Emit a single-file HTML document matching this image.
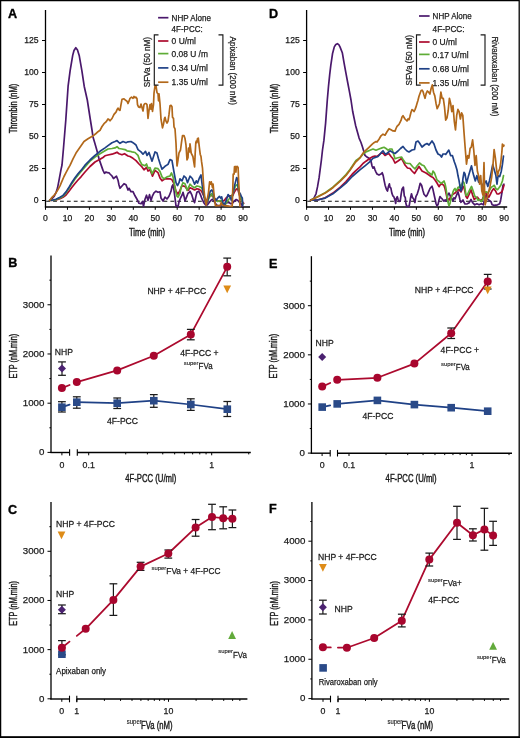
<!DOCTYPE html>
<html><head><meta charset="utf-8"><style>
html,body{margin:0;padding:0;background:#fff;}
svg{display:block;}
text{font-family:"Liberation Sans",sans-serif;}
</style></head><body>
<div style="will-change:transform;width:520px;height:738px"><svg width="520" height="738" viewBox="0 0 520 738">
<rect x="0" y="0" width="520" height="738" fill="#fff"/>
<text x="0" y="0" font-size="12.6" text-anchor="start" font-weight="bold" fill="#000" stroke="#000" stroke-width="0.35" transform="translate(8.3 267.3)">B</text>
<line x1="51" y1="255.5" x2="51" y2="453.1" stroke="#000" stroke-width="1.3" />
<line x1="47.5" y1="452.4" x2="51" y2="452.4" stroke="#000" stroke-width="1.0" />
<text x="0" y="0" font-size="9.7" text-anchor="end" font-weight="normal" fill="#1a1a1a" stroke="#1a1a1a" stroke-width="0.25" transform="translate(44.4 455.29)">0</text>
<line x1="47.5" y1="403.19" x2="51" y2="403.19" stroke="#000" stroke-width="1.0" />
<text x="0" y="0" font-size="9.7" text-anchor="end" font-weight="normal" fill="#1a1a1a" stroke="#1a1a1a" stroke-width="0.25" transform="translate(44.4 406.08)">1000</text>
<line x1="47.5" y1="353.98" x2="51" y2="353.98" stroke="#000" stroke-width="1.0" />
<text x="0" y="0" font-size="9.7" text-anchor="end" font-weight="normal" fill="#1a1a1a" stroke="#1a1a1a" stroke-width="0.25" transform="translate(44.4 356.87)">2000</text>
<line x1="47.5" y1="304.77" x2="51" y2="304.77" stroke="#000" stroke-width="1.0" />
<text x="0" y="0" font-size="9.7" text-anchor="end" font-weight="normal" fill="#1a1a1a" stroke="#1a1a1a" stroke-width="0.25" transform="translate(44.4 307.66)">3000</text>
<line x1="49.4" y1="427.79" x2="51" y2="427.79" stroke="#000" stroke-width="1.0" />
<line x1="49.4" y1="378.58" x2="51" y2="378.58" stroke="#000" stroke-width="1.0" />
<line x1="49.4" y1="329.38" x2="51" y2="329.38" stroke="#000" stroke-width="1.0" />
<line x1="49.4" y1="280.16" x2="51" y2="280.16" stroke="#000" stroke-width="1.0" />
<line x1="50.4" y1="452.5" x2="69.6" y2="452.5" stroke="#000" stroke-width="1.4" />
<line x1="77.3" y1="452.5" x2="250.8" y2="452.5" stroke="#000" stroke-width="1.4" />
<line x1="69.6" y1="449.2" x2="69.6" y2="455.8" stroke="#000" stroke-width="1.1" />
<line x1="77.3" y1="449.2" x2="77.3" y2="455.8" stroke="#000" stroke-width="1.1" />
<line x1="61.9" y1="452.5" x2="61.9" y2="455.3" stroke="#000" stroke-width="1.0" />
<line x1="88.7" y1="452.5" x2="88.7" y2="455.3" stroke="#000" stroke-width="1.0" />
<line x1="211.7" y1="452.5" x2="211.7" y2="455.3" stroke="#000" stroke-width="1.0" />
<line x1="125.73" y1="452.5" x2="125.73" y2="454.4" stroke="#000" stroke-width="1.0" />
<line x1="147.39" y1="452.5" x2="147.39" y2="454.4" stroke="#000" stroke-width="1.0" />
<line x1="162.75" y1="452.5" x2="162.75" y2="454.4" stroke="#000" stroke-width="1.0" />
<line x1="174.67" y1="452.5" x2="174.67" y2="454.4" stroke="#000" stroke-width="1.0" />
<line x1="184.41" y1="452.5" x2="184.41" y2="454.4" stroke="#000" stroke-width="1.0" />
<line x1="192.65" y1="452.5" x2="192.65" y2="454.4" stroke="#000" stroke-width="1.0" />
<line x1="199.78" y1="452.5" x2="199.78" y2="454.4" stroke="#000" stroke-width="1.0" />
<line x1="206.07" y1="452.5" x2="206.07" y2="454.4" stroke="#000" stroke-width="1.0" />
<line x1="248.73" y1="452.5" x2="248.73" y2="454.4" stroke="#000" stroke-width="1.0" />
<text x="0" y="0" font-size="8.8" text-anchor="middle" font-weight="normal" fill="#1a1a1a" stroke="#1a1a1a" stroke-width="0.25" transform="translate(61.9 467.67)">0</text>
<text x="0" y="0" font-size="8.8" text-anchor="middle" font-weight="normal" fill="#1a1a1a" stroke="#1a1a1a" stroke-width="0.25" transform="translate(88.7 467.67)">0.1</text>
<text x="0" y="0" font-size="8.8" text-anchor="middle" font-weight="normal" fill="#1a1a1a" stroke="#1a1a1a" stroke-width="0.25" transform="translate(211.7 467.67)">1</text>
<text x="0" y="0" font-size="10" text-anchor="middle" font-weight="normal" fill="#1a1a1a" stroke="#1a1a1a" stroke-width="0.4" textLength="44.7" lengthAdjust="spacingAndGlyphs" transform="rotate(-90 13.2 356.2) translate(13.2 359.8)">ETP (nM.min)</text>
<text x="0" y="0" font-size="10" text-anchor="middle" font-weight="normal" fill="#1a1a1a" stroke="#1a1a1a" stroke-width="0.4" textLength="51" lengthAdjust="spacingAndGlyphs" transform="translate(150.8 482.4)">4F-PCC (U/ml)</text>
<polyline points="61.9,407.2 69.6,404.62" fill="none" stroke="#1f4186" stroke-width="1.75" stroke-linejoin="round" stroke-linecap="round"/>
<polyline points="76.8,402.2 117.2,403.2 153.8,400.7 190.8,404.5 227.3,409.2" fill="none" stroke="#1f4186" stroke-width="1.75" stroke-linejoin="round" stroke-linecap="round"/>
<polyline points="61.9,388.1 69.6,385" fill="none" stroke="#ac0a2e" stroke-width="1.75" stroke-linejoin="round" stroke-linecap="round"/>
<polyline points="76.8,382.1 117.2,370.4 153.8,355.7 190.8,334.4 227.2,266.8" fill="none" stroke="#ac0a2e" stroke-width="1.75" stroke-linejoin="round" stroke-linecap="round"/>
<line x1="61.9" y1="401.7" x2="61.9" y2="412" stroke="#1a1a1a" stroke-width="1.2" />
<line x1="58" y1="401.7" x2="65.8" y2="401.7" stroke="#1a1a1a" stroke-width="1.25" />
<line x1="58" y1="412" x2="65.8" y2="412" stroke="#1a1a1a" stroke-width="1.25" />
<line x1="76.8" y1="396.8" x2="76.8" y2="408.2" stroke="#1a1a1a" stroke-width="1.2" />
<line x1="72.9" y1="396.8" x2="80.7" y2="396.8" stroke="#1a1a1a" stroke-width="1.25" />
<line x1="72.9" y1="408.2" x2="80.7" y2="408.2" stroke="#1a1a1a" stroke-width="1.25" />
<line x1="117.2" y1="398" x2="117.2" y2="408.5" stroke="#1a1a1a" stroke-width="1.2" />
<line x1="113.3" y1="398" x2="121.1" y2="398" stroke="#1a1a1a" stroke-width="1.25" />
<line x1="113.3" y1="408.5" x2="121.1" y2="408.5" stroke="#1a1a1a" stroke-width="1.25" />
<line x1="153.8" y1="394.6" x2="153.8" y2="407.3" stroke="#1a1a1a" stroke-width="1.2" />
<line x1="149.9" y1="394.6" x2="157.7" y2="394.6" stroke="#1a1a1a" stroke-width="1.25" />
<line x1="149.9" y1="407.3" x2="157.7" y2="407.3" stroke="#1a1a1a" stroke-width="1.25" />
<line x1="190.8" y1="398.8" x2="190.8" y2="410.4" stroke="#1a1a1a" stroke-width="1.2" />
<line x1="186.9" y1="398.8" x2="194.7" y2="398.8" stroke="#1a1a1a" stroke-width="1.25" />
<line x1="186.9" y1="410.4" x2="194.7" y2="410.4" stroke="#1a1a1a" stroke-width="1.25" />
<line x1="227.3" y1="401.5" x2="227.3" y2="416.5" stroke="#1a1a1a" stroke-width="1.2" />
<line x1="223.4" y1="401.5" x2="231.2" y2="401.5" stroke="#1a1a1a" stroke-width="1.25" />
<line x1="223.4" y1="416.5" x2="231.2" y2="416.5" stroke="#1a1a1a" stroke-width="1.25" />
<rect x="58.1" y="403.4" width="7.6" height="7.6" fill="#2a4a88"/>
<rect x="73" y="398.4" width="7.6" height="7.6" fill="#2a4a88"/>
<rect x="113.4" y="399.4" width="7.6" height="7.6" fill="#2a4a88"/>
<rect x="150" y="396.9" width="7.6" height="7.6" fill="#2a4a88"/>
<rect x="187" y="400.7" width="7.6" height="7.6" fill="#2a4a88"/>
<rect x="223.5" y="405.4" width="7.6" height="7.6" fill="#2a4a88"/>
<line x1="190.8" y1="329.4" x2="190.8" y2="339.8" stroke="#1a1a1a" stroke-width="1.2" />
<line x1="186.9" y1="329.4" x2="194.7" y2="329.4" stroke="#1a1a1a" stroke-width="1.25" />
<line x1="186.9" y1="339.8" x2="194.7" y2="339.8" stroke="#1a1a1a" stroke-width="1.25" />
<line x1="227.2" y1="258.1" x2="227.2" y2="275.8" stroke="#1a1a1a" stroke-width="1.2" />
<line x1="223.3" y1="258.1" x2="231.1" y2="258.1" stroke="#1a1a1a" stroke-width="1.25" />
<line x1="223.3" y1="275.8" x2="231.1" y2="275.8" stroke="#1a1a1a" stroke-width="1.25" />
<circle cx="61.9" cy="388.1" r="4" fill="#a8062e"/>
<circle cx="76.8" cy="382.1" r="4" fill="#a8062e"/>
<circle cx="117.2" cy="370.4" r="4" fill="#a8062e"/>
<circle cx="153.8" cy="355.7" r="4" fill="#a8062e"/>
<circle cx="190.8" cy="334.4" r="4" fill="#a8062e"/>
<circle cx="227.2" cy="266.8" r="4" fill="#a8062e"/>
<line x1="62" y1="361.9" x2="62" y2="375.3" stroke="#1a1a1a" stroke-width="1.2" />
<line x1="58.1" y1="361.9" x2="65.9" y2="361.9" stroke="#1a1a1a" stroke-width="1.25" />
<line x1="58.1" y1="375.3" x2="65.9" y2="375.3" stroke="#1a1a1a" stroke-width="1.25" />
<path d="M62,364.4 L66,368.4 L62,372.4 L58,368.4 Z" fill="#4b2270"/>
<path d="M223.3,285.5 L231.1,285.5 L227.2,293.3 Z" fill="#de8c18"/>
<text x="0" y="0" font-size="9.2" text-anchor="start" font-weight="normal" fill="#1a1a1a" stroke="#1a1a1a" stroke-width="0.25" transform="translate(54.8 354.51) scale(0.935 1)">NHP</text>
<text x="0" y="0" font-size="9.2" text-anchor="start" font-weight="normal" fill="#1a1a1a" stroke="#1a1a1a" stroke-width="0.25" transform="translate(147.4 293.71) scale(0.935 1)">NHP + 4F-PCC</text>
<text x="0" y="0" font-size="9.2" text-anchor="start" font-weight="normal" fill="#1a1a1a" stroke="#1a1a1a" stroke-width="0.25" transform="translate(180.2 355.71) scale(0.935 1)">4F-PCC +</text>
<text x="0" y="0" font-size="6.2" text-anchor="start" font-weight="normal" fill="#1a1a1a" stroke="#1a1a1a" stroke-width="0.12" transform="translate(183.8 364.73) scale(0.95 1)">super</text>
<text x="0" y="0" font-size="9.2" text-anchor="start" font-weight="normal" fill="#1a1a1a" stroke="#1a1a1a" stroke-width="0.25" transform="translate(198.62 368.81) scale(0.86 1)">FVa</text>
<text x="0" y="0" font-size="9.2" text-anchor="start" font-weight="normal" fill="#1a1a1a" stroke="#1a1a1a" stroke-width="0.25" transform="translate(107 423.71) scale(0.935 1)">4F-PCC</text>
<text x="0" y="0" font-size="12.6" text-anchor="start" font-weight="bold" fill="#000" stroke="#000" stroke-width="0.35" transform="translate(269 267.9)">E</text>
<line x1="311.4" y1="256.2" x2="311.4" y2="453.8" stroke="#000" stroke-width="1.3" />
<line x1="307.9" y1="453.1" x2="311.4" y2="453.1" stroke="#000" stroke-width="1.0" />
<text x="0" y="0" font-size="9.7" text-anchor="end" font-weight="normal" fill="#1a1a1a" stroke="#1a1a1a" stroke-width="0.25" transform="translate(304.8 455.99)">0</text>
<line x1="307.9" y1="403.97" x2="311.4" y2="403.97" stroke="#000" stroke-width="1.0" />
<text x="0" y="0" font-size="9.7" text-anchor="end" font-weight="normal" fill="#1a1a1a" stroke="#1a1a1a" stroke-width="0.25" transform="translate(304.8 406.86)">1000</text>
<line x1="307.9" y1="354.84" x2="311.4" y2="354.84" stroke="#000" stroke-width="1.0" />
<text x="0" y="0" font-size="9.7" text-anchor="end" font-weight="normal" fill="#1a1a1a" stroke="#1a1a1a" stroke-width="0.25" transform="translate(304.8 357.73)">2000</text>
<line x1="307.9" y1="305.71" x2="311.4" y2="305.71" stroke="#000" stroke-width="1.0" />
<text x="0" y="0" font-size="9.7" text-anchor="end" font-weight="normal" fill="#1a1a1a" stroke="#1a1a1a" stroke-width="0.25" transform="translate(304.8 308.6)">3000</text>
<line x1="309.8" y1="428.54" x2="311.4" y2="428.54" stroke="#000" stroke-width="1.0" />
<line x1="309.8" y1="379.41" x2="311.4" y2="379.41" stroke="#000" stroke-width="1.0" />
<line x1="309.8" y1="330.28" x2="311.4" y2="330.28" stroke="#000" stroke-width="1.0" />
<line x1="309.8" y1="281.14" x2="311.4" y2="281.14" stroke="#000" stroke-width="1.0" />
<line x1="310.8" y1="453.2" x2="330.2" y2="453.2" stroke="#000" stroke-width="1.4" />
<line x1="337.5" y1="453.2" x2="512" y2="453.2" stroke="#000" stroke-width="1.4" />
<line x1="330.2" y1="449.9" x2="330.2" y2="456.5" stroke="#000" stroke-width="1.1" />
<line x1="337.5" y1="449.9" x2="337.5" y2="456.5" stroke="#000" stroke-width="1.1" />
<line x1="322.1" y1="453.2" x2="322.1" y2="456" stroke="#000" stroke-width="1.0" />
<line x1="349" y1="453.2" x2="349" y2="456" stroke="#000" stroke-width="1.0" />
<line x1="472" y1="453.2" x2="472" y2="456" stroke="#000" stroke-width="1.0" />
<line x1="386.03" y1="453.2" x2="386.03" y2="455.1" stroke="#000" stroke-width="1.0" />
<line x1="407.69" y1="453.2" x2="407.69" y2="455.1" stroke="#000" stroke-width="1.0" />
<line x1="423.05" y1="453.2" x2="423.05" y2="455.1" stroke="#000" stroke-width="1.0" />
<line x1="434.97" y1="453.2" x2="434.97" y2="455.1" stroke="#000" stroke-width="1.0" />
<line x1="444.71" y1="453.2" x2="444.71" y2="455.1" stroke="#000" stroke-width="1.0" />
<line x1="452.95" y1="453.2" x2="452.95" y2="455.1" stroke="#000" stroke-width="1.0" />
<line x1="460.08" y1="453.2" x2="460.08" y2="455.1" stroke="#000" stroke-width="1.0" />
<line x1="466.37" y1="453.2" x2="466.37" y2="455.1" stroke="#000" stroke-width="1.0" />
<line x1="509.03" y1="453.2" x2="509.03" y2="455.1" stroke="#000" stroke-width="1.0" />
<text x="0" y="0" font-size="8.8" text-anchor="middle" font-weight="normal" fill="#1a1a1a" stroke="#1a1a1a" stroke-width="0.25" transform="translate(322.1 468.37)">0</text>
<text x="0" y="0" font-size="8.8" text-anchor="middle" font-weight="normal" fill="#1a1a1a" stroke="#1a1a1a" stroke-width="0.25" transform="translate(349 468.37)">0.1</text>
<text x="0" y="0" font-size="8.8" text-anchor="middle" font-weight="normal" fill="#1a1a1a" stroke="#1a1a1a" stroke-width="0.25" transform="translate(472 468.37)">1</text>
<text x="0" y="0" font-size="10" text-anchor="middle" font-weight="normal" fill="#1a1a1a" stroke="#1a1a1a" stroke-width="0.4" textLength="44.7" lengthAdjust="spacingAndGlyphs" transform="rotate(-90 273.6 356.2) translate(273.6 359.8)">ETP (nM.min)</text>
<text x="0" y="0" font-size="10" text-anchor="middle" font-weight="normal" fill="#1a1a1a" stroke="#1a1a1a" stroke-width="0.4" textLength="51" lengthAdjust="spacingAndGlyphs" transform="translate(411.1 482.4)">4F-PCC (U/ml)</text>
<polyline points="322.2,407.1 330.2,405.39" fill="none" stroke="#1f4186" stroke-width="1.75" stroke-linejoin="round" stroke-linecap="round"/>
<polyline points="337.2,403.9 377.4,400.4 414.4,404.6 451.2,407.7 487.7,411.2" fill="none" stroke="#1f4186" stroke-width="1.75" stroke-linejoin="round" stroke-linecap="round"/>
<polyline points="322.2,386.6 330.2,382.97" fill="none" stroke="#ac0a2e" stroke-width="1.75" stroke-linejoin="round" stroke-linecap="round"/>
<polyline points="337.2,379.8 377.4,377.8 414.4,363.6 451.2,333.3 487.7,281.6" fill="none" stroke="#ac0a2e" stroke-width="1.75" stroke-linejoin="round" stroke-linecap="round"/>
<rect x="318.4" y="403.3" width="7.6" height="7.6" fill="#2a4a88"/>
<rect x="333.4" y="400.1" width="7.6" height="7.6" fill="#2a4a88"/>
<rect x="373.6" y="396.6" width="7.6" height="7.6" fill="#2a4a88"/>
<rect x="410.6" y="400.8" width="7.6" height="7.6" fill="#2a4a88"/>
<rect x="447.4" y="403.9" width="7.6" height="7.6" fill="#2a4a88"/>
<rect x="483.9" y="407.4" width="7.6" height="7.6" fill="#2a4a88"/>
<line x1="451.2" y1="328" x2="451.2" y2="338.5" stroke="#1a1a1a" stroke-width="1.2" />
<line x1="447.3" y1="328" x2="455.1" y2="328" stroke="#1a1a1a" stroke-width="1.25" />
<line x1="447.3" y1="338.5" x2="455.1" y2="338.5" stroke="#1a1a1a" stroke-width="1.25" />
<line x1="487.7" y1="274.4" x2="487.7" y2="289" stroke="#1a1a1a" stroke-width="1.2" />
<line x1="483.8" y1="274.4" x2="491.6" y2="274.4" stroke="#1a1a1a" stroke-width="1.25" />
<line x1="483.8" y1="289" x2="491.6" y2="289" stroke="#1a1a1a" stroke-width="1.25" />
<path d="M483.8,286.4 L491.6,286.4 L487.7,294.2 Z" fill="#de8c18"/>
<circle cx="322.2" cy="386.6" r="4" fill="#a8062e"/>
<circle cx="337.2" cy="379.8" r="4" fill="#a8062e"/>
<circle cx="377.4" cy="377.8" r="4" fill="#a8062e"/>
<circle cx="414.4" cy="363.6" r="4" fill="#a8062e"/>
<circle cx="451.2" cy="333.3" r="4" fill="#a8062e"/>
<circle cx="487.7" cy="281.6" r="4" fill="#a8062e"/>
<path d="M322.2,353 L326.2,357 L322.2,361 L318.2,357 Z" fill="#4b2270"/>
<text x="0" y="0" font-size="9.2" text-anchor="start" font-weight="normal" fill="#1a1a1a" stroke="#1a1a1a" stroke-width="0.25" transform="translate(315.6 346.11) scale(0.935 1)">NHP</text>
<text x="0" y="0" font-size="9.2" text-anchor="start" font-weight="normal" fill="#1a1a1a" stroke="#1a1a1a" stroke-width="0.25" transform="translate(414.8 292.61) scale(0.935 1)">NHP + 4F-PCC</text>
<text x="0" y="0" font-size="9.2" text-anchor="start" font-weight="normal" fill="#1a1a1a" stroke="#1a1a1a" stroke-width="0.25" transform="translate(440.6 352.91) scale(0.935 1)">4F-PCC +</text>
<text x="0" y="0" font-size="6.2" text-anchor="start" font-weight="normal" fill="#1a1a1a" stroke="#1a1a1a" stroke-width="0.12" transform="translate(441 365.63) scale(0.95 1)">super</text>
<text x="0" y="0" font-size="9.2" text-anchor="start" font-weight="normal" fill="#1a1a1a" stroke="#1a1a1a" stroke-width="0.25" transform="translate(455.83 369.71) scale(0.86 1)">FVa</text>
<text x="0" y="0" font-size="9.2" text-anchor="start" font-weight="normal" fill="#1a1a1a" stroke="#1a1a1a" stroke-width="0.25" transform="translate(362.4 419.41) scale(0.935 1)">4F-PCC</text>
<text x="0" y="0" font-size="12.6" text-anchor="start" font-weight="bold" fill="#000" stroke="#000" stroke-width="0.35" transform="translate(7.9 514)">C</text>
<line x1="51" y1="502.1" x2="51" y2="699.6" stroke="#000" stroke-width="1.3" />
<line x1="47.5" y1="698.8" x2="51" y2="698.8" stroke="#000" stroke-width="1.0" />
<text x="0" y="0" font-size="9.7" text-anchor="end" font-weight="normal" fill="#1a1a1a" stroke="#1a1a1a" stroke-width="0.25" transform="translate(44.4 701.69)">0</text>
<line x1="47.5" y1="649.63" x2="51" y2="649.63" stroke="#000" stroke-width="1.0" />
<text x="0" y="0" font-size="9.7" text-anchor="end" font-weight="normal" fill="#1a1a1a" stroke="#1a1a1a" stroke-width="0.25" transform="translate(44.4 652.52)">1000</text>
<line x1="47.5" y1="600.46" x2="51" y2="600.46" stroke="#000" stroke-width="1.0" />
<text x="0" y="0" font-size="9.7" text-anchor="end" font-weight="normal" fill="#1a1a1a" stroke="#1a1a1a" stroke-width="0.25" transform="translate(44.4 603.35)">2000</text>
<line x1="47.5" y1="551.29" x2="51" y2="551.29" stroke="#000" stroke-width="1.0" />
<text x="0" y="0" font-size="9.7" text-anchor="end" font-weight="normal" fill="#1a1a1a" stroke="#1a1a1a" stroke-width="0.25" transform="translate(44.4 554.18)">3000</text>
<line x1="49.4" y1="674.21" x2="51" y2="674.21" stroke="#000" stroke-width="1.0" />
<line x1="49.4" y1="625.04" x2="51" y2="625.04" stroke="#000" stroke-width="1.0" />
<line x1="49.4" y1="575.88" x2="51" y2="575.88" stroke="#000" stroke-width="1.0" />
<line x1="49.4" y1="526.7" x2="51" y2="526.7" stroke="#000" stroke-width="1.0" />
<line x1="50.4" y1="699" x2="69.5" y2="699" stroke="#000" stroke-width="1.4" />
<line x1="76.8" y1="699" x2="247.4" y2="699" stroke="#000" stroke-width="1.4" />
<line x1="69.5" y1="695.7" x2="69.5" y2="702.3" stroke="#000" stroke-width="1.1" />
<line x1="76.8" y1="695.7" x2="76.8" y2="702.3" stroke="#000" stroke-width="1.1" />
<line x1="61.8" y1="699" x2="61.8" y2="701.8" stroke="#000" stroke-width="1.0" />
<line x1="76.8" y1="699" x2="76.8" y2="701.8" stroke="#000" stroke-width="1.0" />
<line x1="168.5" y1="699" x2="168.5" y2="701.8" stroke="#000" stroke-width="1.0" />
<line x1="104.4" y1="699" x2="104.4" y2="700.9" stroke="#000" stroke-width="1.0" />
<line x1="120.55" y1="699" x2="120.55" y2="700.9" stroke="#000" stroke-width="1.0" />
<line x1="132.01" y1="699" x2="132.01" y2="700.9" stroke="#000" stroke-width="1.0" />
<line x1="140.9" y1="699" x2="140.9" y2="700.9" stroke="#000" stroke-width="1.0" />
<line x1="148.16" y1="699" x2="148.16" y2="700.9" stroke="#000" stroke-width="1.0" />
<line x1="154.3" y1="699" x2="154.3" y2="700.9" stroke="#000" stroke-width="1.0" />
<line x1="159.61" y1="699" x2="159.61" y2="700.9" stroke="#000" stroke-width="1.0" />
<line x1="164.3" y1="699" x2="164.3" y2="700.9" stroke="#000" stroke-width="1.0" />
<line x1="196.1" y1="699" x2="196.1" y2="700.9" stroke="#000" stroke-width="1.0" />
<line x1="212.25" y1="699" x2="212.25" y2="700.9" stroke="#000" stroke-width="1.0" />
<line x1="223.71" y1="699" x2="223.71" y2="700.9" stroke="#000" stroke-width="1.0" />
<line x1="232.6" y1="699" x2="232.6" y2="700.9" stroke="#000" stroke-width="1.0" />
<line x1="239.86" y1="699" x2="239.86" y2="700.9" stroke="#000" stroke-width="1.0" />
<text x="0" y="0" font-size="8.8" text-anchor="middle" font-weight="normal" fill="#1a1a1a" stroke="#1a1a1a" stroke-width="0.25" transform="translate(61.8 714.17)">0</text>
<text x="0" y="0" font-size="8.8" text-anchor="middle" font-weight="normal" fill="#1a1a1a" stroke="#1a1a1a" stroke-width="0.25" transform="translate(76.8 714.17)">1</text>
<text x="0" y="0" font-size="8.8" text-anchor="middle" font-weight="normal" fill="#1a1a1a" stroke="#1a1a1a" stroke-width="0.25" transform="translate(168.5 714.17)">10</text>
<text x="0" y="0" font-size="10" text-anchor="middle" font-weight="normal" fill="#1a1a1a" stroke="#1a1a1a" stroke-width="0.4" textLength="44.7" lengthAdjust="spacingAndGlyphs" transform="rotate(-90 13.2 603.5) translate(13.2 607.1)">ETP (nM.min)</text>
<text x="0" y="0" font-size="6.3" text-anchor="start" font-weight="normal" fill="#1a1a1a" stroke="#1a1a1a" stroke-width="0.12" transform="translate(126.8 724.47) scale(0.95 1)">super</text>
<text x="0" y="0" font-size="10" text-anchor="start" font-weight="normal" fill="#1a1a1a" stroke="#1a1a1a" stroke-width="0.4" textLength="31.6" lengthAdjust="spacingAndGlyphs" transform="translate(141 729.4)">FVa (nM)</text>
<polyline points="61.9,647.7 69.5,641.66" fill="none" stroke="#ac0a2e" stroke-width="1.75" stroke-linejoin="round" stroke-linecap="round"/>
<polyline points="76.8,635.87 85.7,628.8" fill="none" stroke="#ac0a2e" stroke-width="1.75" stroke-linejoin="round" stroke-linecap="round"/>
<polyline points="85.7,628.8 113.4,599.9 140.6,566.6 168.3,553.5 195.6,527.6 212,517 223.2,518.2 232.4,518.8" fill="none" stroke="#ac0a2e" stroke-width="1.75" stroke-linejoin="round" stroke-linecap="round"/>
<line x1="61.9" y1="640.6" x2="61.9" y2="654.8" stroke="#1a1a1a" stroke-width="1.2" />
<line x1="58" y1="640.6" x2="65.8" y2="640.6" stroke="#1a1a1a" stroke-width="1.25" />
<line x1="58" y1="654.8" x2="65.8" y2="654.8" stroke="#1a1a1a" stroke-width="1.25" />
<line x1="113.4" y1="583.8" x2="113.4" y2="615.4" stroke="#1a1a1a" stroke-width="1.2" />
<line x1="109.5" y1="583.8" x2="117.3" y2="583.8" stroke="#1a1a1a" stroke-width="1.25" />
<line x1="109.5" y1="615.4" x2="117.3" y2="615.4" stroke="#1a1a1a" stroke-width="1.25" />
<line x1="140.6" y1="562.3" x2="140.6" y2="570.4" stroke="#1a1a1a" stroke-width="1.2" />
<line x1="136.7" y1="562.3" x2="144.5" y2="562.3" stroke="#1a1a1a" stroke-width="1.25" />
<line x1="136.7" y1="570.4" x2="144.5" y2="570.4" stroke="#1a1a1a" stroke-width="1.25" />
<line x1="168.3" y1="550" x2="168.3" y2="558.1" stroke="#1a1a1a" stroke-width="1.2" />
<line x1="164.4" y1="550" x2="172.2" y2="550" stroke="#1a1a1a" stroke-width="1.25" />
<line x1="164.4" y1="558.1" x2="172.2" y2="558.1" stroke="#1a1a1a" stroke-width="1.25" />
<line x1="195.6" y1="519.5" x2="195.6" y2="536.2" stroke="#1a1a1a" stroke-width="1.2" />
<line x1="191.7" y1="519.5" x2="199.5" y2="519.5" stroke="#1a1a1a" stroke-width="1.25" />
<line x1="191.7" y1="536.2" x2="199.5" y2="536.2" stroke="#1a1a1a" stroke-width="1.25" />
<line x1="212" y1="504.3" x2="212" y2="529.7" stroke="#1a1a1a" stroke-width="1.2" />
<line x1="208.1" y1="504.3" x2="215.9" y2="504.3" stroke="#1a1a1a" stroke-width="1.25" />
<line x1="208.1" y1="529.7" x2="215.9" y2="529.7" stroke="#1a1a1a" stroke-width="1.25" />
<line x1="223.2" y1="506.8" x2="223.2" y2="528.8" stroke="#1a1a1a" stroke-width="1.2" />
<line x1="219.3" y1="506.8" x2="227.1" y2="506.8" stroke="#1a1a1a" stroke-width="1.25" />
<line x1="219.3" y1="528.8" x2="227.1" y2="528.8" stroke="#1a1a1a" stroke-width="1.25" />
<line x1="232.4" y1="510" x2="232.4" y2="527.6" stroke="#1a1a1a" stroke-width="1.2" />
<line x1="228.5" y1="510" x2="236.3" y2="510" stroke="#1a1a1a" stroke-width="1.25" />
<line x1="228.5" y1="527.6" x2="236.3" y2="527.6" stroke="#1a1a1a" stroke-width="1.25" />
<rect x="58.1" y="650.4" width="7.6" height="7.6" fill="#2a4a88"/>
<circle cx="61.9" cy="647.7" r="4" fill="#a8062e"/>
<circle cx="85.7" cy="628.8" r="4" fill="#a8062e"/>
<circle cx="113.4" cy="599.9" r="4" fill="#a8062e"/>
<circle cx="140.6" cy="566.6" r="4" fill="#a8062e"/>
<circle cx="168.3" cy="553.5" r="4" fill="#a8062e"/>
<circle cx="195.6" cy="527.6" r="4" fill="#a8062e"/>
<circle cx="212" cy="517" r="4" fill="#a8062e"/>
<circle cx="223.2" cy="518.2" r="4" fill="#a8062e"/>
<circle cx="232.4" cy="518.8" r="4" fill="#a8062e"/>
<line x1="61.9" y1="605" x2="61.9" y2="613.7" stroke="#1a1a1a" stroke-width="1.2" />
<line x1="58" y1="605" x2="65.8" y2="605" stroke="#1a1a1a" stroke-width="1.25" />
<line x1="58" y1="613.7" x2="65.8" y2="613.7" stroke="#1a1a1a" stroke-width="1.25" />
<path d="M61.9,605.8 L65.9,609.8 L61.9,613.8 L57.9,609.8 Z" fill="#4b2270"/>
<path d="M57.6,531.5 L65.4,531.5 L61.5,539.3 Z" fill="#de8c18"/>
<path d="M228.2,638.9 L236,638.9 L232.1,631.1 Z" fill="#62aa3b"/>
<text x="0" y="0" font-size="9.2" text-anchor="start" font-weight="normal" fill="#1a1a1a" stroke="#1a1a1a" stroke-width="0.25" transform="translate(56.1 526.71) scale(0.935 1)">NHP + 4F-PCC</text>
<text x="0" y="0" font-size="9.2" text-anchor="start" font-weight="normal" fill="#1a1a1a" stroke="#1a1a1a" stroke-width="0.25" transform="translate(56.1 597.31) scale(0.935 1)">NHP</text>
<text x="0" y="0" font-size="8.9" text-anchor="start" font-weight="normal" fill="#1a1a1a" stroke="#1a1a1a" stroke-width="0.25" textLength="50" lengthAdjust="spacingAndGlyphs" transform="translate(56.1 674.4)">Apixaban only</text>
<text x="0" y="0" font-size="6.2" text-anchor="start" font-weight="normal" fill="#1a1a1a" stroke="#1a1a1a" stroke-width="0.12" transform="translate(151.5 569.83) scale(0.95 1)">super</text>
<text x="0" y="0" font-size="9.2" text-anchor="start" font-weight="normal" fill="#1a1a1a" stroke="#1a1a1a" stroke-width="0.25" textLength="54.3" lengthAdjust="spacingAndGlyphs" transform="translate(166.32 573.91)">FVa + 4F-PCC</text>
<text x="0" y="0" font-size="6.2" text-anchor="start" font-weight="normal" fill="#1a1a1a" stroke="#1a1a1a" stroke-width="0.12" transform="translate(218.2 653.43) scale(0.95 1)">super</text>
<text x="0" y="0" font-size="9.2" text-anchor="start" font-weight="normal" fill="#1a1a1a" stroke="#1a1a1a" stroke-width="0.25" transform="translate(233.02 657.51) scale(0.86 1)">FVa</text>
<text x="0" y="0" font-size="12.6" text-anchor="start" font-weight="bold" fill="#000" stroke="#000" stroke-width="0.35" transform="translate(268.9 513.4)">F</text>
<line x1="311.9" y1="502.1" x2="311.9" y2="699.6" stroke="#000" stroke-width="1.3" />
<line x1="308.4" y1="698.6" x2="311.9" y2="698.6" stroke="#000" stroke-width="1.0" />
<text x="0" y="0" font-size="9.7" text-anchor="end" font-weight="normal" fill="#1a1a1a" stroke="#1a1a1a" stroke-width="0.25" transform="translate(305.3 701.49)">0</text>
<line x1="308.4" y1="659.25" x2="311.9" y2="659.25" stroke="#000" stroke-width="1.0" />
<text x="0" y="0" font-size="9.7" text-anchor="end" font-weight="normal" fill="#1a1a1a" stroke="#1a1a1a" stroke-width="0.25" transform="translate(305.3 662.14)">1000</text>
<line x1="308.4" y1="619.9" x2="311.9" y2="619.9" stroke="#000" stroke-width="1.0" />
<text x="0" y="0" font-size="9.7" text-anchor="end" font-weight="normal" fill="#1a1a1a" stroke="#1a1a1a" stroke-width="0.25" transform="translate(305.3 622.79)">2000</text>
<line x1="308.4" y1="580.55" x2="311.9" y2="580.55" stroke="#000" stroke-width="1.0" />
<text x="0" y="0" font-size="9.7" text-anchor="end" font-weight="normal" fill="#1a1a1a" stroke="#1a1a1a" stroke-width="0.25" transform="translate(305.3 583.44)">3000</text>
<line x1="308.4" y1="541.2" x2="311.9" y2="541.2" stroke="#000" stroke-width="1.0" />
<text x="0" y="0" font-size="9.7" text-anchor="end" font-weight="normal" fill="#1a1a1a" stroke="#1a1a1a" stroke-width="0.25" transform="translate(305.3 544.09)">4000</text>
<line x1="310.3" y1="678.93" x2="311.9" y2="678.93" stroke="#000" stroke-width="1.0" />
<line x1="310.3" y1="639.58" x2="311.9" y2="639.58" stroke="#000" stroke-width="1.0" />
<line x1="310.3" y1="600.23" x2="311.9" y2="600.23" stroke="#000" stroke-width="1.0" />
<line x1="310.3" y1="560.88" x2="311.9" y2="560.88" stroke="#000" stroke-width="1.0" />
<line x1="310.3" y1="521.52" x2="311.9" y2="521.52" stroke="#000" stroke-width="1.0" />
<line x1="311.3" y1="699" x2="330.5" y2="699" stroke="#000" stroke-width="1.4" />
<line x1="338" y1="699" x2="509.2" y2="699" stroke="#000" stroke-width="1.4" />
<line x1="330.5" y1="695.7" x2="330.5" y2="702.3" stroke="#000" stroke-width="1.1" />
<line x1="338" y1="695.7" x2="338" y2="702.3" stroke="#000" stroke-width="1.1" />
<line x1="323" y1="699" x2="323" y2="701.8" stroke="#000" stroke-width="1.0" />
<line x1="338" y1="699" x2="338" y2="701.8" stroke="#000" stroke-width="1.0" />
<line x1="429.4" y1="699" x2="429.4" y2="701.8" stroke="#000" stroke-width="1.0" />
<line x1="365.51" y1="699" x2="365.51" y2="700.9" stroke="#000" stroke-width="1.0" />
<line x1="381.61" y1="699" x2="381.61" y2="700.9" stroke="#000" stroke-width="1.0" />
<line x1="393.03" y1="699" x2="393.03" y2="700.9" stroke="#000" stroke-width="1.0" />
<line x1="401.89" y1="699" x2="401.89" y2="700.9" stroke="#000" stroke-width="1.0" />
<line x1="409.12" y1="699" x2="409.12" y2="700.9" stroke="#000" stroke-width="1.0" />
<line x1="415.24" y1="699" x2="415.24" y2="700.9" stroke="#000" stroke-width="1.0" />
<line x1="420.54" y1="699" x2="420.54" y2="700.9" stroke="#000" stroke-width="1.0" />
<line x1="425.22" y1="699" x2="425.22" y2="700.9" stroke="#000" stroke-width="1.0" />
<line x1="456.91" y1="699" x2="456.91" y2="700.9" stroke="#000" stroke-width="1.0" />
<line x1="473.01" y1="699" x2="473.01" y2="700.9" stroke="#000" stroke-width="1.0" />
<line x1="484.43" y1="699" x2="484.43" y2="700.9" stroke="#000" stroke-width="1.0" />
<line x1="493.29" y1="699" x2="493.29" y2="700.9" stroke="#000" stroke-width="1.0" />
<line x1="500.52" y1="699" x2="500.52" y2="700.9" stroke="#000" stroke-width="1.0" />
<text x="0" y="0" font-size="8.8" text-anchor="middle" font-weight="normal" fill="#1a1a1a" stroke="#1a1a1a" stroke-width="0.25" transform="translate(323 714.17)">0</text>
<text x="0" y="0" font-size="8.8" text-anchor="middle" font-weight="normal" fill="#1a1a1a" stroke="#1a1a1a" stroke-width="0.25" transform="translate(338 714.17)">1</text>
<text x="0" y="0" font-size="8.8" text-anchor="middle" font-weight="normal" fill="#1a1a1a" stroke="#1a1a1a" stroke-width="0.25" transform="translate(429.4 714.17)">10</text>
<text x="0" y="0" font-size="10" text-anchor="middle" font-weight="normal" fill="#1a1a1a" stroke="#1a1a1a" stroke-width="0.4" textLength="44.7" lengthAdjust="spacingAndGlyphs" transform="rotate(-90 274.1 603.5) translate(274.1 607.1)">ETP (nM.min)</text>
<text x="0" y="0" font-size="6.3" text-anchor="start" font-weight="normal" fill="#1a1a1a" stroke="#1a1a1a" stroke-width="0.12" transform="translate(387.4 724.47) scale(0.95 1)">super</text>
<text x="0" y="0" font-size="10" text-anchor="start" font-weight="normal" fill="#1a1a1a" stroke="#1a1a1a" stroke-width="0.4" textLength="31.6" lengthAdjust="spacingAndGlyphs" transform="translate(401.6 729.4)">FVa (nM)</text>
<polyline points="322.9,647.3 330.8,647.43" fill="none" stroke="#ac0a2e" stroke-width="1.75" stroke-linejoin="round" stroke-linecap="round"/>
<polyline points="337.9,647.55 346.9,647.7" fill="none" stroke="#ac0a2e" stroke-width="1.75" stroke-linejoin="round" stroke-linecap="round"/>
<polyline points="346.9,647.7 374.2,638 401.8,620.7 429.3,559.6 457,522.7 472.9,535.2 484.4,529.4 493.1,535.6" fill="none" stroke="#ac0a2e" stroke-width="1.75" stroke-linejoin="round" stroke-linecap="round"/>
<line x1="401.8" y1="614.2" x2="401.8" y2="626.9" stroke="#1a1a1a" stroke-width="1.2" />
<line x1="397.9" y1="614.2" x2="405.7" y2="614.2" stroke="#1a1a1a" stroke-width="1.25" />
<line x1="397.9" y1="626.9" x2="405.7" y2="626.9" stroke="#1a1a1a" stroke-width="1.25" />
<line x1="429.3" y1="553.1" x2="429.3" y2="566" stroke="#1a1a1a" stroke-width="1.2" />
<line x1="425.4" y1="553.1" x2="433.2" y2="553.1" stroke="#1a1a1a" stroke-width="1.25" />
<line x1="425.4" y1="566" x2="433.2" y2="566" stroke="#1a1a1a" stroke-width="1.25" />
<line x1="457" y1="506.3" x2="457" y2="539.4" stroke="#1a1a1a" stroke-width="1.2" />
<line x1="453.1" y1="506.3" x2="460.9" y2="506.3" stroke="#1a1a1a" stroke-width="1.25" />
<line x1="453.1" y1="539.4" x2="460.9" y2="539.4" stroke="#1a1a1a" stroke-width="1.25" />
<line x1="472.9" y1="528.8" x2="472.9" y2="541" stroke="#1a1a1a" stroke-width="1.2" />
<line x1="469" y1="528.8" x2="476.8" y2="528.8" stroke="#1a1a1a" stroke-width="1.25" />
<line x1="469" y1="541" x2="476.8" y2="541" stroke="#1a1a1a" stroke-width="1.25" />
<line x1="484.4" y1="508.3" x2="484.4" y2="550.2" stroke="#1a1a1a" stroke-width="1.2" />
<line x1="480.5" y1="508.3" x2="488.3" y2="508.3" stroke="#1a1a1a" stroke-width="1.25" />
<line x1="480.5" y1="550.2" x2="488.3" y2="550.2" stroke="#1a1a1a" stroke-width="1.25" />
<line x1="493.1" y1="521.3" x2="493.1" y2="545.4" stroke="#1a1a1a" stroke-width="1.2" />
<line x1="489.2" y1="521.3" x2="497" y2="521.3" stroke="#1a1a1a" stroke-width="1.25" />
<line x1="489.2" y1="545.4" x2="497" y2="545.4" stroke="#1a1a1a" stroke-width="1.25" />
<rect x="319.3" y="664.1" width="7.6" height="7.6" fill="#2a4a88"/>
<circle cx="322.9" cy="647.3" r="4" fill="#a8062e"/>
<circle cx="346.9" cy="647.7" r="4" fill="#a8062e"/>
<circle cx="374.2" cy="638" r="4" fill="#a8062e"/>
<circle cx="401.8" cy="620.7" r="4" fill="#a8062e"/>
<circle cx="429.3" cy="559.6" r="4" fill="#a8062e"/>
<circle cx="457" cy="522.7" r="4" fill="#a8062e"/>
<circle cx="472.9" cy="535.2" r="4" fill="#a8062e"/>
<circle cx="484.4" cy="529.4" r="4" fill="#a8062e"/>
<circle cx="493.1" cy="535.6" r="4" fill="#a8062e"/>
<line x1="322.9" y1="600.2" x2="322.9" y2="614" stroke="#1a1a1a" stroke-width="1.2" />
<line x1="319" y1="600.2" x2="326.8" y2="600.2" stroke="#1a1a1a" stroke-width="1.25" />
<line x1="319" y1="614" x2="326.8" y2="614" stroke="#1a1a1a" stroke-width="1.25" />
<path d="M322.9,603.3 L326.9,607.3 L322.9,611.3 L318.9,607.3 Z" fill="#4b2270"/>
<path d="M319,564 L326.8,564 L322.9,571.8 Z" fill="#de8c18"/>
<path d="M489.2,649.8 L497,649.8 L493.1,642 Z" fill="#62aa3b"/>
<text x="0" y="0" font-size="9.2" text-anchor="start" font-weight="normal" fill="#1a1a1a" stroke="#1a1a1a" stroke-width="0.25" transform="translate(318 559.91) scale(0.935 1)">NHP + 4F-PCC</text>
<text x="0" y="0" font-size="9.2" text-anchor="start" font-weight="normal" fill="#1a1a1a" stroke="#1a1a1a" stroke-width="0.25" transform="translate(334.5 612.11) scale(0.935 1)">NHP</text>
<text x="0" y="0" font-size="8.9" text-anchor="start" font-weight="normal" fill="#1a1a1a" stroke="#1a1a1a" stroke-width="0.25" textLength="59" lengthAdjust="spacingAndGlyphs" transform="translate(318.7 684.6)">Rivaroxaban only</text>
<text x="0" y="0" font-size="6.2" text-anchor="start" font-weight="normal" fill="#1a1a1a" stroke="#1a1a1a" stroke-width="0.12" transform="translate(428 582.13) scale(0.95 1)">super</text>
<text x="0" y="0" font-size="9.2" text-anchor="start" font-weight="normal" fill="#1a1a1a" stroke="#1a1a1a" stroke-width="0.25" textLength="18.8" lengthAdjust="spacingAndGlyphs" transform="translate(442.83 586.21)">FVa+</text>
<text x="0" y="0" font-size="9.2" text-anchor="start" font-weight="normal" fill="#1a1a1a" stroke="#1a1a1a" stroke-width="0.25" transform="translate(428.3 603.31) scale(0.935 1)">4F-PCC</text>
<text x="0" y="0" font-size="6.2" text-anchor="start" font-weight="normal" fill="#1a1a1a" stroke="#1a1a1a" stroke-width="0.12" transform="translate(476.9 659.03) scale(0.95 1)">super</text>
<text x="0" y="0" font-size="9.2" text-anchor="start" font-weight="normal" fill="#1a1a1a" stroke="#1a1a1a" stroke-width="0.25" transform="translate(491.73 663.11) scale(0.86 1)">FVa</text>
<text x="0" y="0" font-size="12.6" text-anchor="start" font-weight="bold" fill="#000" stroke="#000" stroke-width="0.35" transform="translate(8 18.34)">A</text>
<line x1="45.5" y1="10" x2="45.5" y2="207.6" stroke="#000" stroke-width="1.3" />
<line x1="44.9" y1="207" x2="250" y2="207" stroke="#000" stroke-width="1.4" />
<line x1="42" y1="200.5" x2="45.5" y2="200.5" stroke="#000" stroke-width="1.0" />
<text x="0" y="0" font-size="8.6" text-anchor="end" font-weight="normal" fill="#1a1a1a" stroke="#1a1a1a" stroke-width="0.25" transform="translate(38.6 203)">0</text>
<line x1="42" y1="168.5" x2="45.5" y2="168.5" stroke="#000" stroke-width="1.0" />
<text x="0" y="0" font-size="8.6" text-anchor="end" font-weight="normal" fill="#1a1a1a" stroke="#1a1a1a" stroke-width="0.25" transform="translate(38.6 171)">25</text>
<line x1="42" y1="136.5" x2="45.5" y2="136.5" stroke="#000" stroke-width="1.0" />
<text x="0" y="0" font-size="8.6" text-anchor="end" font-weight="normal" fill="#1a1a1a" stroke="#1a1a1a" stroke-width="0.25" transform="translate(38.6 139)">50</text>
<line x1="42" y1="104.5" x2="45.5" y2="104.5" stroke="#000" stroke-width="1.0" />
<text x="0" y="0" font-size="8.6" text-anchor="end" font-weight="normal" fill="#1a1a1a" stroke="#1a1a1a" stroke-width="0.25" transform="translate(38.6 107)">75</text>
<line x1="42" y1="72.5" x2="45.5" y2="72.5" stroke="#000" stroke-width="1.0" />
<text x="0" y="0" font-size="8.6" text-anchor="end" font-weight="normal" fill="#1a1a1a" stroke="#1a1a1a" stroke-width="0.25" transform="translate(38.6 75)">100</text>
<line x1="42" y1="40.5" x2="45.5" y2="40.5" stroke="#000" stroke-width="1.0" />
<text x="0" y="0" font-size="8.6" text-anchor="end" font-weight="normal" fill="#1a1a1a" stroke="#1a1a1a" stroke-width="0.25" transform="translate(38.6 43)">125</text>
<line x1="45.5" y1="207" x2="45.5" y2="209.8" stroke="#000" stroke-width="1.0" />
<text x="0" y="0" font-size="8.6" text-anchor="middle" font-weight="normal" fill="#1a1a1a" stroke="#1a1a1a" stroke-width="0.25" transform="translate(45.5 221.3)">0</text>
<line x1="67.45" y1="207" x2="67.45" y2="209.8" stroke="#000" stroke-width="1.0" />
<text x="0" y="0" font-size="8.6" text-anchor="middle" font-weight="normal" fill="#1a1a1a" stroke="#1a1a1a" stroke-width="0.25" transform="translate(67.45 221.3)">10</text>
<line x1="89.4" y1="207" x2="89.4" y2="209.8" stroke="#000" stroke-width="1.0" />
<text x="0" y="0" font-size="8.6" text-anchor="middle" font-weight="normal" fill="#1a1a1a" stroke="#1a1a1a" stroke-width="0.25" transform="translate(89.4 221.3)">20</text>
<line x1="111.35" y1="207" x2="111.35" y2="209.8" stroke="#000" stroke-width="1.0" />
<text x="0" y="0" font-size="8.6" text-anchor="middle" font-weight="normal" fill="#1a1a1a" stroke="#1a1a1a" stroke-width="0.25" transform="translate(111.35 221.3)">30</text>
<line x1="133.3" y1="207" x2="133.3" y2="209.8" stroke="#000" stroke-width="1.0" />
<text x="0" y="0" font-size="8.6" text-anchor="middle" font-weight="normal" fill="#1a1a1a" stroke="#1a1a1a" stroke-width="0.25" transform="translate(133.3 221.3)">40</text>
<line x1="155.25" y1="207" x2="155.25" y2="209.8" stroke="#000" stroke-width="1.0" />
<text x="0" y="0" font-size="8.6" text-anchor="middle" font-weight="normal" fill="#1a1a1a" stroke="#1a1a1a" stroke-width="0.25" transform="translate(155.25 221.3)">50</text>
<line x1="177.2" y1="207" x2="177.2" y2="209.8" stroke="#000" stroke-width="1.0" />
<text x="0" y="0" font-size="8.6" text-anchor="middle" font-weight="normal" fill="#1a1a1a" stroke="#1a1a1a" stroke-width="0.25" transform="translate(177.2 221.3)">60</text>
<line x1="199.15" y1="207" x2="199.15" y2="209.8" stroke="#000" stroke-width="1.0" />
<text x="0" y="0" font-size="8.6" text-anchor="middle" font-weight="normal" fill="#1a1a1a" stroke="#1a1a1a" stroke-width="0.25" transform="translate(199.15 221.3)">70</text>
<line x1="221.1" y1="207" x2="221.1" y2="209.8" stroke="#000" stroke-width="1.0" />
<text x="0" y="0" font-size="8.6" text-anchor="middle" font-weight="normal" fill="#1a1a1a" stroke="#1a1a1a" stroke-width="0.25" transform="translate(221.1 221.3)">80</text>
<line x1="243.05" y1="207" x2="243.05" y2="209.8" stroke="#000" stroke-width="1.0" />
<text x="0" y="0" font-size="8.6" text-anchor="middle" font-weight="normal" fill="#1a1a1a" stroke="#1a1a1a" stroke-width="0.25" transform="translate(243.05 221.3)">90</text>
<line x1="46.2" y1="201.3" x2="244" y2="201.3" stroke="#111" stroke-width="1.1" stroke-dasharray="3.8 3.1"/>
<text x="0" y="0" font-size="10" text-anchor="middle" font-weight="normal" fill="#1a1a1a" stroke="#1a1a1a" stroke-width="0.4" textLength="36" lengthAdjust="spacingAndGlyphs" transform="translate(147 235.8)">Time (min)</text>
<text x="0" y="0" font-size="10" text-anchor="middle" font-weight="normal" fill="#1a1a1a" stroke="#1a1a1a" stroke-width="0.4" textLength="49.5" lengthAdjust="spacingAndGlyphs" transform="rotate(-90 13.3 108.5) translate(13.3 112.1)">Thrombin (nM)</text>
<polyline points="49.6,200.4 52,198.8 54,196.5 56,192.7 57.5,188.1 59,180.4 60,175 61,169.6 62,165 63.5,148 65.8,120 68.1,86.2 70.1,70.8 72.7,55.4 74,50.5 75.8,47.7 77.5,50 79.2,55.4 81.9,70.8 84.2,86.2 87.3,100 90.4,120 92,130 93,136.9 95,143.8 97,150.8 99,158.8 101,164.6 103,170.4 104.5,173.3 106,172 107.5,172.7 109,172.8 110,174 112,176 113.5,178.5 115,177.3 116.5,176.2 118,180.2 119,185 120,188.3 122,186 124,183.7 126,184.8 128,190 129,188.3 131,191.7 133,191.7 135,195.8 137,199.2 139,203.3 141,203.8 142.5,201.5 143.5,206.2 145,199.2 146.5,195.2 148,200.4 149.5,194.6 151,200.4 152.5,195.8 154,192.9 156,191.2 158,192.3 160,191.8 161,198 163,201 165,197.1 167,199 169,196.2 171,191.3 172,186.5 173,184.6 174,190.4 175,198 176,205.8 178,206.7 179,201.9 180.5,198 182,195.2 183,192.3 184,196.2 185,201 186.5,197.1 188,193.3 189.5,192.3 190,191.2 191.7,194.6 193.5,200.4 194.6,202.7 195.8,196.9 196.9,192.3 198.7,191.2 200.4,194.6 202.1,199.2 203.8,202.7 205.6,205 207.3,205 209,202.7 210.8,200.4 212.5,199.2 214.2,201.5 216.5,205 220,206.2 222.3,203.8 224.6,205 226.9,202.7 229.2,202.7 231,203.8 232.7,203 234.4,201 236.2,199.5 237.9,200.5 239.6,202.5 241.3,204 242.5,206.2" fill="none" stroke="#4a186c" stroke-width="1.7" stroke-linejoin="round" stroke-linecap="round"/>
<polyline points="51,200.4 56,200 60,198.8 63,197.3 66,195 69,191.2 72,187.3 75,183.5 78,180 81,176.8 85,172 90,166.5 95,162 100,159.3 103,157.5 105,155.8 108,155 112,154.2 115,153.1 117,152.2 119,153.7 122,154.8 124.5,153.7 128,156 130,156.5 133,158.3 136,160.6 139,164 142,166.9 144,169.8 146.5,167.5 148,171 150,169.8 152.5,176.2 155,170.4 158,172.7 160,177.9 162,180.8 165,178.8 170,178.8 172,179.8 174,183.7 176,191.3 178,194.2 180,190.4 182,185.6 185,186.5 188,190.4 190,187.7 192.3,188.8 194.6,190 196.9,188.8 199.2,189.4 201.5,191.2 203.8,195.8 206.2,201.5 208.5,196.9 210.8,194.6 213.1,196.9 216.5,200.4 220,201.5 224,200.7 226.1,198 228.8,195.9 230.8,195.9 232.8,195.3 234.5,191.9 236.2,189.2 237.6,188.5 238.9,193.2 240.3,198 242.3,202 243.7,203.4" fill="none" stroke="#ac0a2e" stroke-width="1.7" stroke-linejoin="round" stroke-linecap="round"/>
<polyline points="49.6,200.4 53,200.2 56,199.6 60,197.9 63,196.2 66,192.9 69,188.4 72,183.4 75,179 80,172.7 85,166.9 90,161.2 95,157.1 100,153.7 105,150.8 108,149 112,148.5 115,147.9 117,146.7 119,148.5 122,149 125,149.6 127,150.8 130,151.3 132,151.9 135,152.5 138,155.4 140,161.2 142,164.6 145,165.8 146.5,164 148,168.1 150,167.5 152,173.8 155,168.1 158,168.7 160,171.5 162,176.9 164,178.8 167,176.9 170,176 171.5,173 173,176.9 174,181.7 175,188.5 177,196.2 178,197.1 180,193.3 181,187.5 183,182.7 185,183.7 186,186.5 187,190.4 189,186.5 190,184.2 192.3,186.5 194.6,187.7 196.9,186 199.2,186.5 201.5,187.7 203.3,192.3 205,199.2 207.3,201.5 209.6,196.9 211.9,193.5 214.2,199.2 217.7,201.5 221.2,200.4 222.5,203 224.6,203.8 226.1,203.4 228.1,200 230.1,198 232.2,195.3 233.9,190.5 235.6,185.8 237.3,184.4 238.3,188.5 239.6,193.9 241,198 242.3,202 243,204.1" fill="none" stroke="#5eac36" stroke-width="1.7" stroke-linejoin="round" stroke-linecap="round"/>
<polyline points="49.6,200.4 53,200 56,199.2 60,197.3 63,195.4 66,191.9 69,187.3 72,182.3 75,177.7 78,173.8 81,170.4 85,165.2 90,160 95,155.4 100,151.3 105,147.9 108,145.6 112,142.7 115,141.5 117,140.6 118.5,142.1 120,143.3 123,141.5 126,142.7 128,141.8 131,141.5 133,142.7 136,145 138,149.6 141,151.9 143,154.2 145.5,151.3 147,155.4 149,152.5 152,161.2 155,151.9 157,153.1 158.5,158.8 160,163.5 162,169.2 165,166.3 168,164.4 170,159.6 172,160.6 173,166.3 174.5,175 176,182.7 177.5,185.6 179,182.7 180,178.8 182,180.8 184,176 186,177.9 187.5,182.7 189,178.8 190,176.2 192.3,178.5 194.6,184.2 196.3,180.8 197.5,183.1 199.2,178.5 201,175 202.1,184.2 203.6,194.6 205,201.5 206.7,203.8 208.5,198.1 210.2,191.2 211.9,190 213.1,192.3 214.2,198.1 216,200.4 217.7,198.1 219.4,196.3 220.6,198.1 221.7,196.9 222.9,202.7 224,205.5 226.1,200.7 228.1,194.6 229.5,196.6 230.5,198 231.5,200.7 233.2,192.5 234.2,187.1 235.2,183.1 236.6,177.6 237.5,178.3 238.3,187.1 239.3,192.5 240.3,193.9 241.3,196.6 242.3,198 242.7,205.5" fill="none" stroke="#1f4186" stroke-width="1.7" stroke-linejoin="round" stroke-linecap="round"/>
<polyline points="49.6,200.4 52,197.3 54,195.4 56,192.7 58,189.6 60,185.8 62,181.2 64,176.5 66,172.7 68,168.8 70,165.4 73,158.8 76,153.1 80,147.3 84,141.5 88,138.7 91,136.9 94,135.2 96,133.5 98,131.7 100,130.3 102,126.5 104,123.7 106,121.9 108,119 109,119.6 110,120.8 112,118.5 114,114.4 116,112.1 117,109.8 118,108.1 119,109.8 120,110.4 121,104.6 122,99.4 124,98.8 126,100.6 127,101.2 128,103.5 129,101.2 130,98.3 131.5,97.1 133,98.3 134,96.5 135,97.7 136,97.1 137,98.8 137.5,104.6 138.5,106.9 140,107.5 141,104 142,107.5 143,111 144,104.6 145,103.5 146,103.5 147,104.6 148,118.5 149,110.4 150,104.6 151,109.2 151.5,103.5 152.5,111.5 153.5,104.6 154,93.1 155,86 156,85.8 157,92.7 158,93.8 158.5,100.8 159,93.8 160,103.8 161,119.2 162.5,127.9 163.5,124 164.5,118.3 165,117.3 166,121.2 167,123.1 168,121.2 169,114.4 170,105.8 171,105.3 172,106.7 172.5,117.3 173.5,118.3 174,126.9 175,128.8 176,143.3 177,166 178,160 179,152.9 180.5,150 181.5,142.3 182.5,135.6 184,135.6 185,138.5 186,145.2 187,160 188,157.7 188.5,148.1 189.5,151.9 190,143.8 191.2,153.1 192.9,156.5 194.6,166.9 195.2,153.1 195.8,142.7 196.3,141 196.9,142.7 197.5,138.7 198.3,138.1 199.2,146.2 200.2,154.2 201,156.5 201.5,161.2 202.5,168.1 203.3,180.8 204.1,191.2 205,199.2 206.2,205 207.3,199.2 208.5,192.3 209.6,181.9 210.5,184.2 211.3,181.9 212.5,187.7 213.1,184.2 213.7,191.2 214.5,199.2 215.4,205.6 220,205.6 221.2,202.7 222.3,205 224.6,205.6 229.2,206.2 232.2,206.5 232.8,188.5 233.2,174.2 234.1,174.2 234.5,166.8 235.2,166.4 235.9,172.2 236.4,166.8 237.3,166.4 238.1,167.5 238.6,180.3 239.3,193.9 240,206.5" fill="none" stroke="#b2681a" stroke-width="1.7" stroke-linejoin="round" stroke-linecap="round"/>
<line x1="158.1" y1="17.7" x2="168.4" y2="17.7" stroke="#4a186c" stroke-width="1.7" />
<text x="0" y="0" font-size="9" text-anchor="start" font-weight="normal" fill="#1a1a1a" stroke="#1a1a1a" stroke-width="0.25" textLength="39.4" lengthAdjust="spacingAndGlyphs" transform="translate(171.6 20.94)">NHP Alone</text>
<text x="0" y="0" font-size="9" text-anchor="start" font-weight="normal" fill="#1a1a1a" stroke="#1a1a1a" stroke-width="0.25" textLength="31.1" lengthAdjust="spacingAndGlyphs" transform="translate(171.6 32.44)">4F-PCC:</text>
<line x1="158.1" y1="41" x2="168.4" y2="41" stroke="#ac0a2e" stroke-width="1.7" />
<text x="0" y="0" font-size="9" text-anchor="start" font-weight="normal" fill="#1a1a1a" stroke="#1a1a1a" stroke-width="0.25" textLength="24.4" lengthAdjust="spacingAndGlyphs" transform="translate(171.6 44.24)">0 U/ml</text>
<line x1="158.1" y1="53.6" x2="168.4" y2="53.6" stroke="#5eac36" stroke-width="1.7" />
<text x="0" y="0" font-size="9" text-anchor="start" font-weight="normal" fill="#1a1a1a" stroke="#1a1a1a" stroke-width="0.25" textLength="36.3" lengthAdjust="spacingAndGlyphs" transform="translate(171.6 56.84)">0.08 U /m</text>
<line x1="158.1" y1="67.9" x2="168.4" y2="67.9" stroke="#1f4186" stroke-width="1.7" />
<text x="0" y="0" font-size="9" text-anchor="start" font-weight="normal" fill="#1a1a1a" stroke="#1a1a1a" stroke-width="0.25" textLength="36.3" lengthAdjust="spacingAndGlyphs" transform="translate(171.6 71.14)">0.34 U/ml</text>
<line x1="158.1" y1="82.2" x2="168.4" y2="82.2" stroke="#b2681a" stroke-width="1.7" />
<text x="0" y="0" font-size="9" text-anchor="start" font-weight="normal" fill="#1a1a1a" stroke="#1a1a1a" stroke-width="0.25" textLength="36.3" lengthAdjust="spacingAndGlyphs" transform="translate(171.6 85.44)">1.35 U/ml</text>
<path d="M158.5,34.8 H154.3 V85.1 H158.5" fill="none" stroke="#1a1a1a" stroke-width="1.15"/>
<path d="M218.5,34.8 H222.9 V85.1 H218.5" fill="none" stroke="#1a1a1a" stroke-width="1.15"/>
<text x="0" y="0" font-size="9" text-anchor="middle" font-weight="normal" fill="#1a1a1a" stroke="#1a1a1a" stroke-width="0.25" transform="rotate(-90 147 62.1) translate(147 65.34) scale(0.913 1)">SFVa (50 nM)</text>
<text x="0" y="0" font-size="9" text-anchor="start" font-weight="normal" fill="#1a1a1a" stroke="#1a1a1a" stroke-width="0.25" transform="rotate(90 233.7 36.5) translate(233.7 39.74) scale(0.9 1)">Apixaban (200 nM)</text>
<text x="0" y="0" font-size="12.6" text-anchor="start" font-weight="bold" fill="#000" stroke="#000" stroke-width="0.35" transform="translate(269.1 18.34)">D</text>
<line x1="306.6" y1="10" x2="306.6" y2="207.6" stroke="#000" stroke-width="1.3" />
<line x1="306" y1="207" x2="507.2" y2="207" stroke="#000" stroke-width="1.4" />
<line x1="303.1" y1="200.5" x2="306.6" y2="200.5" stroke="#000" stroke-width="1.0" />
<text x="0" y="0" font-size="8.6" text-anchor="end" font-weight="normal" fill="#1a1a1a" stroke="#1a1a1a" stroke-width="0.25" transform="translate(299.7 203)">0</text>
<line x1="303.1" y1="168.5" x2="306.6" y2="168.5" stroke="#000" stroke-width="1.0" />
<text x="0" y="0" font-size="8.6" text-anchor="end" font-weight="normal" fill="#1a1a1a" stroke="#1a1a1a" stroke-width="0.25" transform="translate(299.7 171)">25</text>
<line x1="303.1" y1="136.5" x2="306.6" y2="136.5" stroke="#000" stroke-width="1.0" />
<text x="0" y="0" font-size="8.6" text-anchor="end" font-weight="normal" fill="#1a1a1a" stroke="#1a1a1a" stroke-width="0.25" transform="translate(299.7 139)">50</text>
<line x1="303.1" y1="104.5" x2="306.6" y2="104.5" stroke="#000" stroke-width="1.0" />
<text x="0" y="0" font-size="8.6" text-anchor="end" font-weight="normal" fill="#1a1a1a" stroke="#1a1a1a" stroke-width="0.25" transform="translate(299.7 107)">75</text>
<line x1="303.1" y1="72.5" x2="306.6" y2="72.5" stroke="#000" stroke-width="1.0" />
<text x="0" y="0" font-size="8.6" text-anchor="end" font-weight="normal" fill="#1a1a1a" stroke="#1a1a1a" stroke-width="0.25" transform="translate(299.7 75)">100</text>
<line x1="303.1" y1="40.5" x2="306.6" y2="40.5" stroke="#000" stroke-width="1.0" />
<text x="0" y="0" font-size="8.6" text-anchor="end" font-weight="normal" fill="#1a1a1a" stroke="#1a1a1a" stroke-width="0.25" transform="translate(299.7 43)">125</text>
<line x1="306.6" y1="207" x2="306.6" y2="209.8" stroke="#000" stroke-width="1.0" />
<text x="0" y="0" font-size="8.6" text-anchor="middle" font-weight="normal" fill="#1a1a1a" stroke="#1a1a1a" stroke-width="0.25" transform="translate(306.6 221.3)">0</text>
<line x1="328.55" y1="207" x2="328.55" y2="209.8" stroke="#000" stroke-width="1.0" />
<text x="0" y="0" font-size="8.6" text-anchor="middle" font-weight="normal" fill="#1a1a1a" stroke="#1a1a1a" stroke-width="0.25" transform="translate(328.55 221.3)">10</text>
<line x1="350.5" y1="207" x2="350.5" y2="209.8" stroke="#000" stroke-width="1.0" />
<text x="0" y="0" font-size="8.6" text-anchor="middle" font-weight="normal" fill="#1a1a1a" stroke="#1a1a1a" stroke-width="0.25" transform="translate(350.5 221.3)">20</text>
<line x1="372.45" y1="207" x2="372.45" y2="209.8" stroke="#000" stroke-width="1.0" />
<text x="0" y="0" font-size="8.6" text-anchor="middle" font-weight="normal" fill="#1a1a1a" stroke="#1a1a1a" stroke-width="0.25" transform="translate(372.45 221.3)">30</text>
<line x1="394.4" y1="207" x2="394.4" y2="209.8" stroke="#000" stroke-width="1.0" />
<text x="0" y="0" font-size="8.6" text-anchor="middle" font-weight="normal" fill="#1a1a1a" stroke="#1a1a1a" stroke-width="0.25" transform="translate(394.4 221.3)">40</text>
<line x1="416.35" y1="207" x2="416.35" y2="209.8" stroke="#000" stroke-width="1.0" />
<text x="0" y="0" font-size="8.6" text-anchor="middle" font-weight="normal" fill="#1a1a1a" stroke="#1a1a1a" stroke-width="0.25" transform="translate(416.35 221.3)">50</text>
<line x1="438.3" y1="207" x2="438.3" y2="209.8" stroke="#000" stroke-width="1.0" />
<text x="0" y="0" font-size="8.6" text-anchor="middle" font-weight="normal" fill="#1a1a1a" stroke="#1a1a1a" stroke-width="0.25" transform="translate(438.3 221.3)">60</text>
<line x1="460.25" y1="207" x2="460.25" y2="209.8" stroke="#000" stroke-width="1.0" />
<text x="0" y="0" font-size="8.6" text-anchor="middle" font-weight="normal" fill="#1a1a1a" stroke="#1a1a1a" stroke-width="0.25" transform="translate(460.25 221.3)">70</text>
<line x1="482.2" y1="207" x2="482.2" y2="209.8" stroke="#000" stroke-width="1.0" />
<text x="0" y="0" font-size="8.6" text-anchor="middle" font-weight="normal" fill="#1a1a1a" stroke="#1a1a1a" stroke-width="0.25" transform="translate(482.2 221.3)">80</text>
<line x1="504.15" y1="207" x2="504.15" y2="209.8" stroke="#000" stroke-width="1.0" />
<text x="0" y="0" font-size="8.6" text-anchor="middle" font-weight="normal" fill="#1a1a1a" stroke="#1a1a1a" stroke-width="0.25" transform="translate(504.15 221.3)">90</text>
<line x1="307.3" y1="201.3" x2="501.2" y2="201.3" stroke="#111" stroke-width="1.1" stroke-dasharray="3.8 3.1"/>
<text x="0" y="0" font-size="10" text-anchor="middle" font-weight="normal" fill="#1a1a1a" stroke="#1a1a1a" stroke-width="0.4" textLength="36" lengthAdjust="spacingAndGlyphs" transform="translate(407 235.8)">Time (min)</text>
<text x="0" y="0" font-size="10" text-anchor="middle" font-weight="normal" fill="#1a1a1a" stroke="#1a1a1a" stroke-width="0.4" textLength="49.5" lengthAdjust="spacingAndGlyphs" transform="rotate(-90 274.4 108.5) translate(274.4 112.1)">Thrombin (nM)</text>
<polyline points="310.6,200.2 313.7,198.5 316,193.8 317.5,186.9 319.1,177.7 320.2,169.2 321.4,160 322.5,150 323.9,140.4 325.6,123.1 327.3,100 328.5,86.2 329.7,74.6 330.8,65.4 332.5,53.8 334.3,46.9 335.8,44.5 337.4,43.7 338.8,44.6 340,46.9 342.3,52.7 344.1,63.1 345.8,72.3 347.5,81.5 349.3,90.8 351,100 352.7,111.5 355.6,125.4 359.1,138.1 361,142.5 362.5,147 364,152 365,155.4 367,157.1 369,158.3 371,161.2 372,165.8 373,168.1 374,166.9 375,169.8 376,172.1 377,174 379,175.1 381,174.1 382.2,172.7 383.2,175.6 384.1,180.4 385.1,185.2 386.5,189.5 387.5,191 388.5,186.2 389.4,183.8 389.9,187.1 390.9,188.1 391.8,192.9 392.8,195.8 393.8,196.7 394.7,199.1 395.7,203.5 396.3,198.7 397.3,196.7 398.1,199.6 399,201.5 400.2,201.1 401.2,193.8 402.1,189 403.4,187.1 404.3,195.8 405.3,197.7 405.8,203 406.7,206.3 409.1,206.3 410.6,197.7 411.5,193.8 412.5,197.7 413.5,198.7 414.9,202.5 415.9,196.7 417.3,193.8 418.8,189 420.2,183.3 421.6,185.2 423,190.8 424,194.2 426,196.5 427,195.4 428,193.1 429,190.8 430,188.5 431,187.3 432,186.2 433,189.6 434,194.2 435,198.8 436,203.5 437,205.8 438,204.6 439,200 440,196.5 441,197.7 442,198.8 443,200 444,201.2 445,200 446,201.2 447,198.3 448,194.2 449,193.1 450,195.4 451,197.7 452,198.8 453,201.2 454,197.7 455,198.8 456,196.5 457,194.2 458,191.9 459,195.4 460,200 461,202.3 462,201.2 463,200 464,202.3 465,204 467.2,203.8 469.3,202.7 471,199.4 472.6,202.7 474.8,204.8 476.9,203.8 479.1,204.8 481.3,203.8 483.4,204.8 485.1,197.2 486.1,195.1 487.8,199.4 489.4,200.5 491,201.6 492.1,204.8 494.3,205.4 497.5,204.8 499.7,203.8 500.8,199.4 501.9,192.9 503,185.3 503.9,184.2" fill="none" stroke="#4a186c" stroke-width="1.7" stroke-linejoin="round" stroke-linecap="round"/>
<polyline points="310.6,200.2 317.5,200 325.2,197.7 332.9,193.1 340.6,186.9 346,181.5 352.2,174.2 355.6,170.8 360,166.9 363,163.5 366,161.2 370,158.3 373,156.5 375,156 377,156.5 379,154.8 381,153.1 383,153.1 385,155.4 387,154.2 389,153.7 391,156.5 393,158.8 395,163 398,161 401.5,158.5 403.5,162 405,165 407.5,168 410,168.5 412,171 414.5,173.5 417,169.5 419,166.5 422,171 424,172 426,173 429,175 431,176.5 433,177.5 435,180 437,183 439,186.7 440,185 442,183.8 444,185.6 445,188.5 446,193.1 447,197.7 449,200 451,196.5 453,194.2 455,193.1 457,190.8 459,189.6 461,191.9 462,189.6 463,186.2 464,187.3 465,191.9 466,196.5 467.2,198.3 469.3,194 471,189.7 472.6,195.1 474.2,199.4 475.8,198.3 477.5,197.2 479.1,199.4 480.7,200.5 482.4,199.4 484,195.1 485.6,192.9 487.2,195.1 488.9,197.2 490.5,194 492.1,190.7 493.7,188.6 495.4,190.7 497,194 498.6,194 500.2,192.9 501.9,191.8 503,188.6 504,185.3" fill="none" stroke="#ac0a2e" stroke-width="1.7" stroke-linejoin="round" stroke-linecap="round"/>
<polyline points="310.6,200.2 317.5,196.7 325.2,192.8 332.9,187.2 340.6,180.2 346,174.6 350,169.5 356,160.5 360,157.7 363,154.2 366,151.9 370,150.2 373,149 376,150.2 379,149 382,147.9 384,147.3 386,148.5 388,150.2 390,149 392,149 395,158.8 397,158 399,157.5 401.5,157 403,159.5 405.5,163 408,163.5 410,163.5 412.5,166.5 415,169 417,166 419.5,163 422,165 424,165.8 426,169 428,172 430,173.5 432,175 433,171 434.5,173 437,180 439,181.5 441,183.3 443,182.1 444,181 445,183.8 446,188.5 447,195.4 448,202.3 449,205.8 450,203.5 451,198.8 452,195.4 453,191.9 454,189.6 455,188.5 456,190.8 457,189.6 458,187.3 459,187.9 460,185 461,186.2 462,183.8 463,181.5 464,182.7 465,188.5 466,195.4 467.2,195.1 469.3,190.7 471.5,186.4 473.1,190.7 474.8,196.2 476.4,197.2 478,200.5 479.6,199.4 481.3,201.6 482.9,199.4 484.5,192.9 486.1,191.8 487.8,192.9 489.4,190.7 491,187.5 492.7,186.4 494.3,185.3 495.9,188.6 497.5,189.7 499.2,187.5 500.8,185.3 502.4,181 503.5,175.6" fill="none" stroke="#5eac36" stroke-width="1.7" stroke-linejoin="round" stroke-linecap="round"/>
<polyline points="310.6,200.2 317.5,200 325.2,198.1 332.9,193.8 340.6,187.7 346,183.1 352.2,176.5 360.2,169.6 365,165.8 370,161.7 373,158.3 376,157.1 378,156.5 380,154.2 382,151.9 383,150.8 384.5,153.1 386,154.2 388,152.5 390,150.8 392,151.9 395,153.5 398,151 400.5,148.5 403,146.5 405,149 407,151 409,152 412,150 414.5,149.5 416,142 418,141 419.5,143 422,147 425,144.5 427,143.5 429,145 432,141 434,144 436,150 438,154 440,155 441.5,157 443,154 445,154 445.7,154.4 448.8,150.1 450.6,155.6 452.4,155.6 454.3,161.7 455.5,165 457,170 458,175.8 459,180.4 460,186.2 461,190.8 462,187.3 463,178.1 464,172.3 465,174 466.6,183.1 468.3,176.6 469.9,171.2 471.5,165.8 472.6,171.2 473.7,175.6 475.3,181 476.9,175.6 478.6,182.1 480.2,179.9 481.8,184.2 483.4,187.5 485.1,182.1 486.1,181 487.8,186.4 489.4,181 491,173.4 492.7,164.7 494.3,170.1 495.9,175.6 497,184.2 498.1,175.6 499.7,176.6 501.3,171.2 502.4,164.7 503.5,156" fill="none" stroke="#1f4186" stroke-width="1.7" stroke-linejoin="round" stroke-linecap="round"/>
<polyline points="310.6,200.2 317.5,196.9 325.2,193.1 332.9,187.7 340.6,180.8 346,175.4 350,170.3 355.6,162.1 358,159.8 360,157.7 363,153.1 366,150.2 369,147.3 372,144.4 374,142.7 376,141.5 377,142.1 379,139.2 381,135.8 383,134.2 385,135.2 387,131.8 389,128.7 391,129.8 393,130.9 395,131.1 396,128.5 397,126.4 399,124.4 401,120.4 402,117 403,115.7 405,119 407,121 408,119 409,119.7 410,116.3 411,112.3 412,109.6 413,110.3 414,111.6 415,109.6 416,106.9 417,103.6 418,100.2 419,96.2 420,93.5 421,90.8 422,90.1 423,91.4 424,95 425,98.3 426.2,93.4 427.4,91 428.7,92.2 429.9,94 431.1,88.5 432.3,84.9 433.5,92.2 434.8,95.9 436,103.2 437.2,108.7 438.4,106.2 439.6,103.2 440.9,92.2 442.1,98.3 443.3,98.3 444.5,106.8 445.7,120.2 447,117.8 448.2,110.5 449.4,98.3 450.6,103.2 451.8,111.7 453,105.6 454.3,121.5 455.5,130 456.7,115.4 457.9,109.3 459.1,111.7 460.4,119 461.6,112.9 462.8,115.4 464,132.4 465.2,148.3 466.5,164.1 467.7,155.6 468.9,158 470.1,148.3 471.3,147.1 472.6,139.8 473.8,150.7 475,165.4 476.2,155.6 477.4,171.2 478.6,175.6 479.6,184.2 480.7,175.6 481.8,190.7 482.9,195.1 484,162.5 484.7,195.1 485.1,204.8 486.7,199.4 488.3,192.9 490,186.4 491.6,177.7 493,164.7 494.1,149.5 495.4,158.2 496.5,169 497.5,175.6 498.6,171.2 499.7,169 500.8,162.5 501.9,151.7 502.4,144.1 503.5,146.3 504,145.2" fill="none" stroke="#b2681a" stroke-width="1.7" stroke-linejoin="round" stroke-linecap="round"/>
<line x1="419" y1="16" x2="429.6" y2="16" stroke="#4a186c" stroke-width="1.7" />
<text x="0" y="0" font-size="9" text-anchor="start" font-weight="normal" fill="#1a1a1a" stroke="#1a1a1a" stroke-width="0.25" textLength="39.1" lengthAdjust="spacingAndGlyphs" transform="translate(432.6 19.24)">NHP Alone</text>
<text x="0" y="0" font-size="9" text-anchor="start" font-weight="normal" fill="#1a1a1a" stroke="#1a1a1a" stroke-width="0.25" textLength="32" lengthAdjust="spacingAndGlyphs" transform="translate(432.6 32.44)">4F-PCC:</text>
<line x1="419" y1="42" x2="429.6" y2="42" stroke="#ac0a2e" stroke-width="1.7" />
<text x="0" y="0" font-size="9" text-anchor="start" font-weight="normal" fill="#1a1a1a" stroke="#1a1a1a" stroke-width="0.25" textLength="24.3" lengthAdjust="spacingAndGlyphs" transform="translate(432.6 45.24)">0 U/ml</text>
<line x1="419" y1="54.4" x2="429.6" y2="54.4" stroke="#5eac36" stroke-width="1.7" />
<text x="0" y="0" font-size="9" text-anchor="start" font-weight="normal" fill="#1a1a1a" stroke="#1a1a1a" stroke-width="0.25" textLength="35.9" lengthAdjust="spacingAndGlyphs" transform="translate(432.6 57.64)">0.17 U/ml</text>
<line x1="419" y1="68.8" x2="429.6" y2="68.8" stroke="#1f4186" stroke-width="1.7" />
<text x="0" y="0" font-size="9" text-anchor="start" font-weight="normal" fill="#1a1a1a" stroke="#1a1a1a" stroke-width="0.25" textLength="36.4" lengthAdjust="spacingAndGlyphs" transform="translate(432.6 72.04)">0.68 U/ml</text>
<line x1="419" y1="82.9" x2="429.6" y2="82.9" stroke="#b2681a" stroke-width="1.7" />
<text x="0" y="0" font-size="9" text-anchor="start" font-weight="normal" fill="#1a1a1a" stroke="#1a1a1a" stroke-width="0.25" textLength="36.4" lengthAdjust="spacingAndGlyphs" transform="translate(432.6 86.14)">1.35 U/ml</text>
<path d="M420.7,34.8 H416.5 V85.1 H420.7" fill="none" stroke="#1a1a1a" stroke-width="1.15"/>
<path d="M480.6,34.8 H485 V85.1 H480.6" fill="none" stroke="#1a1a1a" stroke-width="1.15"/>
<text x="0" y="0" font-size="9" text-anchor="middle" font-weight="normal" fill="#1a1a1a" stroke="#1a1a1a" stroke-width="0.25" transform="rotate(-90 408.6 60.2) translate(408.6 63.44) scale(0.913 1)">SFVa (50 nM)</text>
<text x="0" y="0" font-size="9" text-anchor="start" font-weight="normal" fill="#1a1a1a" stroke="#1a1a1a" stroke-width="0.25" transform="rotate(90 495.6 36.5) translate(495.6 39.74) scale(0.9 1)">Rivaroxaban (200 nM)</text>
<rect x="0.6" y="0.6" width="518.6" height="736.4" fill="none" stroke="#000" stroke-width="1.3"/>
<line x1="0" y1="737.2" x2="520" y2="737.2" stroke="#000" stroke-width="1.6"/>
</svg></div>
</body></html>
